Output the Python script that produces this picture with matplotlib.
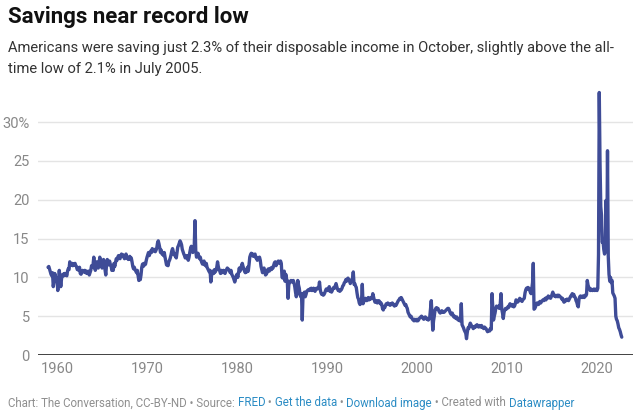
import matplotlib
matplotlib.use("Agg")
import matplotlib.pyplot as plt
import matplotlib.dates as mdates
import pandas as pd

# US personal saving rate, monthly, % of disposable income
rate_1959 = [11.3, 11.4, 11.1, 10.8, 10.4, 10.2, 10.6, 8.8, 9.5, 10.5, 10.1, 9.9]

rate_1960s = [
    9.6, 8.3, 9.5, 10.9, 9.9, 8.8, 9.8, 10.3, 10.4, 10.2, 10.5, 10.3,
    10.4, 10.2, 10.8, 11.1, 11.0, 12.0, 11.7, 11.6, 11.8, 11.5, 11.7, 11.6,
    11.8, 11.5, 11.4, 11.0, 11.2, 10.9, 11.3, 10.5, 10.4, 10.6, 10.9, 10.8,
    10.7, 10.9, 10.6, 10.8, 10.5, 10.6, 10.8, 10.3, 10.6, 10.9, 11.5, 11.3,
    11.6, 12.6, 11.4, 10.9, 11.3, 12.0, 11.6, 11.2, 11.8, 12.6, 11.9, 11.5,
    11.2, 11.5, 12.3, 11.8, 11.0, 10.3, 11.6, 12.3, 11.9, 11.6, 12.1, 11.7,
    11.5, 10.9, 11.2, 10.9, 11.8, 11.4, 11.9, 12.4, 12.2, 12.6, 12.8, 12.5,
    12.4, 12.8, 13.0, 12.7, 12.9, 12.6, 12.4, 12.7, 13.0, 12.5, 12.6, 12.3,
    12.5, 12.7, 12.3, 12.5, 12.0, 11.4, 11.1, 11.3, 11.0, 10.8, 10.6, 10.9,
    10.2, 9.6, 9.9, 9.7, 10.3, 11.3, 11.7, 11.4, 11.8, 11.6, 11.7, 12.2,
]

rate_1970s = [
    12.6, 12.9, 13.2, 12.8, 13.1, 13.4, 13.2, 13.7, 13.4, 13.5, 13.6, 13.3,
    13.5, 13.8, 14.4, 14.7, 14.3, 13.8, 13.2, 13.5, 13.0, 13.1, 12.8, 13.2,
    12.6, 12.1, 11.6, 11.8, 11.5, 12.0, 12.2, 12.5, 12.9, 13.4, 13.7, 13.3,
    12.9, 13.0, 12.7, 12.5, 13.2, 13.9, 14.1, 14.4, 14.7, 14.5, 14.2, 13.6,
    13.3, 13.0, 12.8, 12.5, 12.7, 12.8, 12.4, 12.2, 12.6, 13.2, 13.7, 14.0,
    13.6, 13.2, 13.8, 14.1, 17.3, 13.4, 12.6, 12.8, 13.1, 12.7, 12.4, 12.6,
    12.2, 11.9, 11.7, 11.9, 12.1, 11.6, 11.5, 11.8, 11.3, 11.1, 10.9, 10.7,
    10.9, 9.4, 10.2, 10.6, 10.8, 10.5, 11.0, 10.7, 10.9, 11.3, 12.0, 11.4,
    11.0, 10.8, 10.5, 10.9, 10.6, 10.7, 10.9, 10.6, 10.5, 10.8, 11.0, 11.2,
    11.1, 11.0, 10.8, 10.6, 10.9, 10.4, 10.2, 10.0, 9.7, 9.4, 9.8, 10.2,
]

rate_1980s = [
    10.4, 10.0, 10.6, 11.2, 10.8, 11.0, 11.5, 11.8, 11.4, 11.1, 10.8, 10.6,
    11.0, 10.7, 11.3, 10.8, 11.6, 12.6, 12.9, 13.1, 12.8, 13.0, 12.7, 12.9,
    13.0, 12.5, 12.6, 12.2, 12.5, 12.3, 12.6, 12.2, 11.4, 11.0, 10.6, 11.1,
    11.2, 10.8, 10.3, 10.4, 10.6, 11.0, 11.1, 10.8, 11.0, 11.2, 11.0, 11.3,
    11.2, 11.6, 11.9, 12.0, 11.5, 11.7, 11.9, 12.1, 12.0, 11.8, 12.1, 11.8,
    10.0, 9.9, 10.3, 10.8, 9.5, 10.4, 9.8, 9.6, 7.3, 9.0, 9.4, 9.5,
    9.6, 9.4, 9.5, 9.6, 9.3, 8.8, 8.1, 7.5, 7.9, 9.6, 9.0, 8.6,
    7.8, 7.5, 7.9, 4.5, 7.6, 7.9, 8.1, 7.5, 7.8, 8.2, 8.3, 8.4,
    8.3, 8.5, 8.4, 8.6, 8.3, 8.5, 8.6, 8.4, 8.2, 8.5, 8.6, 8.5,
    8.6, 8.8, 9.4, 8.4, 8.0, 7.8, 7.9, 7.7, 7.8, 8.0, 8.3, 8.5,
]

rate_1990s = [
    8.5, 8.3, 8.6, 8.8, 8.2, 8.4, 8.1, 8.3, 8.6, 8.7, 8.6, 8.9,
    9.2, 8.8, 8.5, 8.3, 8.4, 8.2, 8.3, 8.4, 8.6, 8.9, 9.0, 9.3,
    9.4, 9.7, 9.5, 9.8, 9.9, 9.6, 9.7, 9.2, 9.5, 9.6, 9.8, 10.7,
    9.1, 9.2, 8.9, 8.7, 8.0, 7.4, 7.2, 6.7, 6.5, 6.8, 7.0, 9.1,
    6.6, 6.9, 7.0, 7.3, 7.1, 7.0, 7.2, 7.4, 7.1, 7.3, 7.2, 7.4,
    7.3, 7.9, 7.5, 7.1, 6.8, 6.9, 7.0, 6.7, 6.8, 7.0, 6.9, 6.6,
    6.7, 6.5, 6.0, 5.8, 6.2, 6.1, 6.4, 6.6, 6.5, 6.7, 6.6, 6.5,
    6.4, 6.6, 6.5, 6.7, 6.6, 6.4, 6.3, 6.5, 6.4, 6.6, 6.8, 7.0,
    7.1, 7.3, 7.2, 7.4, 7.2, 7.0, 6.8, 6.6, 6.4, 6.5, 6.2, 6.0,
    5.5, 5.3, 5.1, 4.9, 5.0, 4.8, 4.6, 4.5, 4.4, 4.6, 4.5, 4.4,
]

rate_2000s = [
    4.6, 4.4, 4.5, 4.7, 4.8, 4.9, 5.0, 4.9, 4.7, 4.6, 4.8, 4.9,
    4.8, 4.6, 4.7, 4.5, 4.6, 4.9, 6.0, 7.0, 5.2, 3.2, 4.4, 5.0,
    5.8, 6.0, 6.1, 5.9, 6.0, 5.7, 5.5, 5.4, 5.6, 5.7, 5.5, 5.6,
    5.5, 5.6, 5.7, 5.8, 5.9, 6.0, 6.0, 5.8, 5.5, 5.3, 5.2, 5.4,
    5.1, 4.9, 5.0, 4.8, 4.7, 4.9, 4.6, 4.5, 4.7, 4.4, 4.6, 6.6,
    3.9, 3.7, 3.5, 3.2, 3.0, 2.8, 2.1, 2.9, 3.5, 3.4, 3.8, 4.1,
    3.9, 3.7, 3.6, 3.4, 3.5, 3.7, 3.6, 3.8, 3.9, 3.7, 3.6, 3.8,
    3.7, 3.6, 3.8, 3.6, 3.5, 3.4, 3.6, 3.5, 3.4, 3.2, 3.0, 3.1,
    3.2, 3.1, 3.4, 3.3, 7.9, 6.2, 4.5, 5.0, 5.4, 6.0, 6.3, 6.2,
    6.1, 6.3, 6.0, 6.6, 7.9, 5.9, 5.4, 4.7, 5.5, 5.8, 6.0, 5.9,
]

rate_2010s = [
    6.0, 6.2, 6.1, 6.4, 6.6, 6.5, 6.3, 6.5, 6.4, 6.2, 6.3, 6.6,
    7.1, 7.0, 6.8, 6.9, 7.1, 7.3, 7.2, 7.0, 6.9, 7.1, 7.2, 7.3,
    8.0, 8.4, 8.6, 8.5, 8.7, 8.6, 8.4, 8.1, 7.9, 8.5, 9.3, 11.8,
    5.9, 6.0, 6.2, 6.5, 6.7, 6.6, 6.5, 6.8, 6.9, 6.7, 6.9, 7.0,
    7.1, 7.0, 7.2, 7.3, 7.1, 7.4, 7.3, 7.6, 7.4, 7.5, 7.3, 7.5,
    7.8, 8.1, 7.7, 7.6, 7.7, 7.5, 7.6, 7.7, 7.5, 7.7, 7.6, 7.5,
    7.4, 7.2, 7.3, 7.0, 6.8, 6.9, 7.1, 7.0, 7.2, 7.1, 7.0, 7.2,
    7.4, 7.6, 7.7, 7.9, 7.6, 7.8, 7.5, 7.4, 7.0, 6.8, 6.4, 6.2,
    7.2, 7.5, 7.6, 7.5, 7.4, 7.6, 7.5, 7.4, 7.7, 7.6, 7.8, 9.6,
    9.0, 8.7, 8.6, 8.3, 8.5, 8.4, 8.3, 8.4, 8.5, 8.3, 8.4, 8.5,
]

rate_2020s = [
    8.3, 8.6, 12.9, 33.8, 24.9, 19.1, 18.0, 14.5, 14.7, 13.6, 13.0, 13.4,
    19.9, 13.4, 26.3, 12.7, 10.4, 9.5, 10.0, 9.3, 9.6, 8.0, 7.8, 7.6,
    7.3, 5.0, 4.6, 4.4, 4.0, 3.5, 3.3, 3.0, 2.6, 2.3,
]

y_ticks = [0, 5, 10, 15, 20, 25, 30]
y_labels = ["0", "5", "10", "15", "20", "25", "30%"]
x_years = [1960, 1970, 1980, 1990, 2000, 2010, 2020]

TITLE = "Savings near record low"
SUBTITLE = ("Americans were saving just 2.3% of their disposable income in October, slightly above the all-\n"
            "time low of 2.1% in July 2005.")

LINE = "#3f4c97"
GRAY = "#8f8f8f"
LINK = "#2b8cc4"


def main():
    plt.rcParams["font.family"] = ["Roboto", "DejaVu Sans"]

    values = rate_1959 + rate_1960s + rate_1970s + rate_1980s + rate_1990s + rate_2000s + rate_2010s + rate_2020s
    dates = pd.date_range("1959-01-01", periods=len(values), freq="MS")

    fig = plt.figure(figsize=(6.4, 4.18), dpi=100)
    ax = fig.add_axes([0.0594, 0.1507, 0.9297, 0.641])

    for t in y_ticks[1:]:
        ax.axhline(t, color="#e4e4e4", lw=1, zorder=0)
    ax.axhline(0, color="#333333", lw=1.3, zorder=3)

    ax.plot(dates, values, color=LINE, lw=2.4, solid_joinstyle="round",
            solid_capstyle="round", zorder=2)

    ax.set_xlim(pd.Timestamp("1957-11-20"), pd.Timestamp("2024-01-01"))
    ax.set_ylim(0, 34.5)
    ax.set_yticks(y_ticks)
    ax.set_yticklabels(y_labels)
    ax.set_xticks([pd.Timestamp(f"{y}-01-01") for y in x_years])
    ax.xaxis.set_major_formatter(mdates.DateFormatter("%Y"))
    ax.tick_params(axis="both", length=0, labelsize=10.5, colors=GRAY)
    ax.tick_params(axis="y", pad=6)
    ax.tick_params(axis="x", pad=5)
    for lab in ax.get_xticklabels() + ax.get_yticklabels():
        lab.set_color("#888888")
    for s in ax.spines.values():
        s.set_visible(False)

    fig.text(8 / 640, 1 - 17 / 418, TITLE, fontsize=16, fontweight="bold",
             color="#111111", va="center", ha="left")
    fig.text(8 / 640, 1 - 41 / 418, SUBTITLE, fontsize=10.6, color="#333333",
             va="top", ha="left", linespacing=1.6)

    # footer with coloured link words
    parts = [
        ("Chart: The Conversation, CC-BY-ND \u2022 Source: ", GRAY),
        ("FRED", LINK),
        (" \u2022 ", GRAY),
        ("Get the data", LINK),
        (" \u2022 ", GRAY),
        ("Download image", LINK),
        (" \u2022 Created with ", GRAY),
        ("Datawrapper", LINK),
    ]
    renderer = fig.canvas.get_renderer()
    x = 8 / 640
    for txt, col in parts:
        t = fig.text(x, 1 - 403 / 418, txt, fontsize=8.3, color=col, va="center", ha="left")
        bb = t.get_window_extent(renderer=renderer)
        x += bb.width / fig.bbox.width

    fig.savefig("out.png", dpi=100, facecolor="white")


if __name__ == "__main__":
    main()
